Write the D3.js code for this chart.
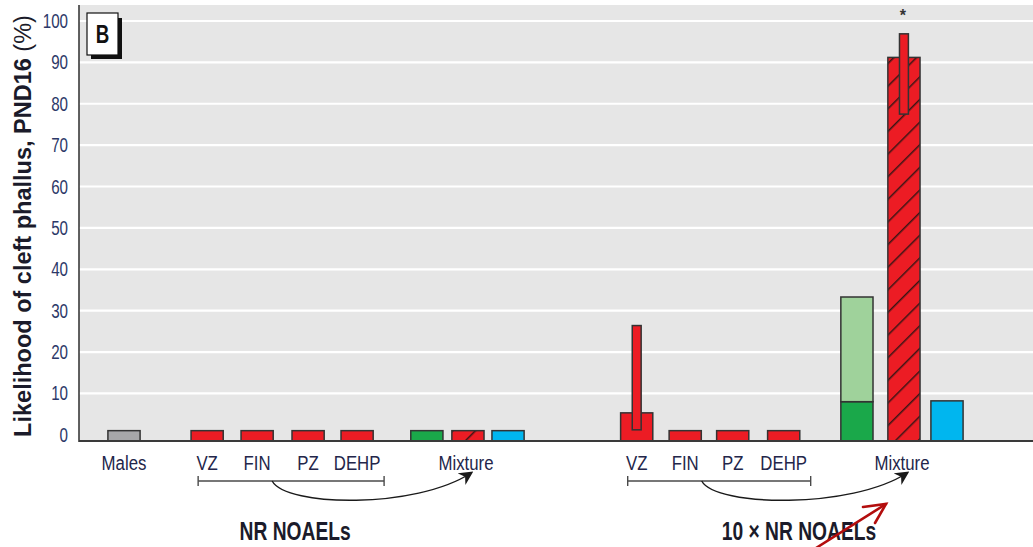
<!DOCTYPE html>
<html>
<head>
<meta charset="utf-8">
<script src="https://cdn.jsdelivr.net/npm/d3@7"></script>
<style>
  html, body { margin: 0; padding: 0; background: #fff; }
  svg { display: block; }
  text { font-family: "Liberation Sans", Arial, sans-serif; }
</style>
</head>
<body>
<svg id="chart" width="1033" height="547"></svg>
<script>
// Bars, left to right: control males, single chemicals and mixture at NR NOAELs,
// then the same at 10 x NR NOAELs.
const barNames = [
  "Males",
  "VZ", "FIN", "PZ", "DEHP", "Mixture DA", "Mixture observed", "Mixture IA",
  "VZ 10x", "FIN 10x", "PZ 10x", "DEHP 10x", "Mixture DA 10x", "Mixture observed 10x", "Mixture IA 10x"
];
const barKinds = [
  "control",
  "single", "single", "single", "single", "da", "observed", "ia",
  "single", "single", "single", "single", "da", "observed", "ia"
];
// Likelihood (%) of cleft phallus at PND16
const barValues = [1, 1, 1, 1, 1, 1, 1, 1, 5.3, 1, 1, 1, 8, 91.2, 8.2];
// Upper end of the dose-addition prediction range (light green)
const rangeTop = [null, null, null, null, null, null, null, null, null, null, null, null, 33.3, null, null];
// Confidence intervals drawn as narrow boxes
const ciLow  = [null, null, null, null, null, null, null, null, 1.2, null, null, null, null, 77.5, null];
const ciHigh = [null, null, null, null, null, null, null, null, 26.4, null, null, null, null, 96.9, null];
const significant = [false, false, false, false, false, false, false, false, false, false, false, false, false, true, false];

const xLabels = ["Males", "VZ", "FIN", "PZ", "DEHP", "Mixture", "VZ", "FIN", "PZ", "DEHP", "Mixture"];
const xLabelBar = [0, 1, 2, 3, 4, 6, 8, 9, 10, 11, 13]; // bar each label sits under
const yTicks = [0, 10, 20, 30, 40, 50, 60, 70, 80, 90, 100];
const groupTitles = ["NR NOAELs", "10 \u00d7 NR NOAELs"];
const yTitle = "Likelihood of cleft phallus, PND16";
const panelLetter = "B";

// Horizontal slot of each bar (layout only)
const slots = [0, 1.68, 2.69, 3.72, 4.71, 6.12, 6.95, 7.76, 10.36, 11.34, 12.30, 13.33, 14.81, 15.76, 16.63];

const fills = {
  control: "#a7a7a9",
  single: "#ec1c24",
  da: "#1aa84a",
  observed: "#ec1c24",
  ia: "#00b6ef"
};
const rangeFill = "#9fd29b";
const edge = "#333333";
const textNavy = "#23264a";

const svg = d3.select("#chart");

const plot = { left: 79, right: 1033, top: 5, base: 441 };
const x = d3.scaleLinear().domain([0, 16.63]).range([124, 947]);
const y = d3.scaleLinear().domain([-1.5, 100]).range([plot.base, 21]);
const barW = x(0.65) - x(0);
const ciW = x(0.18) - x(0);

// narrow type: squeeze a regular face horizontally
function narrow(sel, fx, fy, sx) {
  sel.attr("transform", (d, i) => `translate(${fx(d, i)},${fy(d, i)}) scale(${sx},1)`)
     .attr("x", 0).attr("y", 0);
}

// hatching for observed mixture bars
const defs = svg.append("defs");
const pat = defs.append("pattern")
  .attr("id", "hatch")
  .attr("patternUnits", "userSpaceOnUse")
  .attr("width", 16).attr("height", 16)
  .attr("patternTransform", "rotate(45)");
pat.append("rect").attr("width", 16).attr("height", 16).attr("fill", fills.observed);
pat.append("line").attr("x1", 0).attr("y1", 0).attr("x2", 0).attr("y2", 16)
  .attr("stroke", "#3b1515").attr("stroke-width", 3);

defs.append("marker")
  .attr("id", "arrowBlack")
  .attr("viewBox", "0 0 10 10")
  .attr("refX", 8).attr("refY", 5)
  .attr("markerWidth", 14).attr("markerHeight", 14)
  .attr("markerUnits", "userSpaceOnUse")
  .attr("orient", "auto")
  .append("path").attr("d", "M0,0 L10,5 L0,10 L3,5 Z").attr("fill", "#1a1a1a");

// plot background
svg.append("rect")
  .attr("x", plot.left).attr("y", plot.top)
  .attr("width", plot.right - plot.left).attr("height", plot.base - plot.top)
  .attr("fill", "#e6e6e6");

// gridlines
svg.append("g").selectAll("line").data(yTicks.filter(t => t > 0)).join("line")
  .attr("x1", plot.left).attr("x2", plot.right)
  .attr("y1", d => y(d)).attr("y2", d => y(d))
  .attr("stroke", "#ffffff").attr("stroke-width", 2.2);

// y tick labels
svg.append("g").selectAll("text").data(yTicks).join("text")
  .call(narrow, () => 68, d => y(d) + 7, 0.74)
  .attr("text-anchor", "end")
  .attr("font-size", 20.5)
  .attr("fill", "#2c3868")
  .text(d => d);

// y axis title
svg.append("text")
  .attr("transform", `translate(31,${226}) rotate(-90)`)
  .attr("text-anchor", "middle")
  .attr("font-size", 23.5)
  .attr("font-weight", "bold")
  .attr("fill", "#1b1b2a")
  .call(t => {
    t.append("tspan").text(yTitle + " ");
    t.append("tspan").attr("font-weight", "normal").text("(%)");
  });

const idx = d3.range(barNames.length);

// main bars
svg.append("g").selectAll("rect").data(idx).join("rect")
  .attr("x", i => x(slots[i]) - barW / 2)
  .attr("y", i => y(barValues[i]))
  .attr("width", barW)
  .attr("height", i => y(-1.5) - y(barValues[i]))
  .attr("fill", i => barKinds[i] === "observed" ? "url(#hatch)" : fills[barKinds[i]])
  .attr("stroke", edge).attr("stroke-width", 1.5);

// dose-addition range
svg.append("g").selectAll("rect").data(idx.filter(i => rangeTop[i] != null)).join("rect")
  .attr("x", i => x(slots[i]) - barW / 2)
  .attr("y", i => y(rangeTop[i]))
  .attr("width", barW)
  .attr("height", i => y(barValues[i]) - y(rangeTop[i]))
  .attr("fill", rangeFill)
  .attr("stroke", edge).attr("stroke-width", 1.5);

// confidence interval boxes
svg.append("g").selectAll("rect").data(idx.filter(i => ciHigh[i] != null)).join("rect")
  .attr("x", i => x(slots[i]) - ciW / 2)
  .attr("y", i => y(ciHigh[i]))
  .attr("width", ciW)
  .attr("height", i => y(ciLow[i]) - y(ciHigh[i]))
  .attr("fill", fills.single)
  .attr("stroke", edge).attr("stroke-width", 1.5);

// significance star
svg.append("g").selectAll("text").data(idx.filter(i => significant[i])).join("text")
  .attr("x", i => x(slots[i]) - 1)
  .attr("y", 21)
  .attr("text-anchor", "middle")
  .attr("font-size", 16)
  .attr("font-weight", "bold")
  .attr("fill", "#333")
  .text("*");

// axes lines
svg.append("line")
  .attr("x1", plot.left).attr("x2", plot.left)
  .attr("y1", plot.top).attr("y2", plot.base + 1)
  .attr("stroke", "#3a3a3a").attr("stroke-width", 1.6);
svg.append("line")
  .attr("x1", plot.left).attr("x2", plot.right)
  .attr("y1", plot.base).attr("y2", plot.base)
  .attr("stroke", "#3a3a3a").attr("stroke-width", 2);

// category labels
svg.append("g").selectAll("text").data(xLabels).join("text")
  .call(narrow, (d, i) => x(slots[xLabelBar[i]]) - (d === "Mixture" ? 2 : 0), () => 470, 0.8)
  .attr("text-anchor", "middle")
  .attr("font-size", 21)
  .attr("fill", textNavy)
  .text(d => d);

// brackets over the single chemicals, with arrows to the mixture
function bracket(i0, i1, target) {
  const g = svg.append("g").attr("stroke", "#4a4a4a").attr("fill", "none");
  const xa = x(slots[i0]) - 9, xb = x(slots[i1]) + 27, yb = 481;
  g.append("line").attr("x1", xa).attr("x2", xb).attr("y1", yb).attr("y2", yb).attr("stroke-width", 1.6);
  g.append("line").attr("x1", xa).attr("x2", xa).attr("y1", yb - 5).attr("y2", yb + 5).attr("stroke-width", 1.4);
  g.append("line").attr("x1", xb).attr("x2", xb).attr("y1", yb - 5).attr("y2", yb + 5).attr("stroke-width", 1.4);
  const xs = x(slots[i0]) + 65;
  const xt = x(slots[target]) + 3;
  g.append("path")
    .attr("d", `M${xs},${yb} C${xs + 14},${yb + 26} ${xt - 55},${yb + 28} ${xt},${yb - 8}`)
    .attr("stroke", "#1a1a1a").attr("stroke-width", 1.4)
    .attr("marker-end", "url(#arrowBlack)");
}
bracket(1, 4, 6);
bracket(8, 11, 13);

// group titles
const titleX = [x(slots[3]) - 13, x(slots[12]) - 58];
svg.append("g").selectAll("text").data(groupTitles).join("text")
  .call(narrow, (d, i) => titleX[i], () => 540, 0.74)
  .attr("text-anchor", "middle")
  .attr("font-size", 26)
  .attr("font-weight", "bold")
  .attr("fill", "#1b1b2a")
  .text(d => d);

// red pointer arrow
const red = svg.append("g").attr("stroke", "#b30d0d").attr("stroke-width", 2.6).attr("fill", "none").attr("stroke-linecap", "round");
red.append("line").attr("x1", 816).attr("y1", 548).attr("x2", 886).attr("y2", 504);
red.append("polyline").attr("points", "863,507 886,504 875,523");

// panel letter box
svg.append("rect").attr("x", 91).attr("y", 18).attr("width", 31).attr("height", 41).attr("fill", "#111");
svg.append("rect").attr("x", 87).attr("y", 13).attr("width", 31).attr("height", 42)
  .attr("fill", "#fff").attr("stroke", "#111").attr("stroke-width", 1.2);
svg.append("text")
  .datum(panelLetter)
  .call(narrow, () => 102.5, () => 43, 0.75)
  .attr("text-anchor", "middle")
  .attr("font-size", 25).attr("font-weight", "bold")
  .attr("fill", "#111")
  .text(d => d);
</script>
</body>
</html>
